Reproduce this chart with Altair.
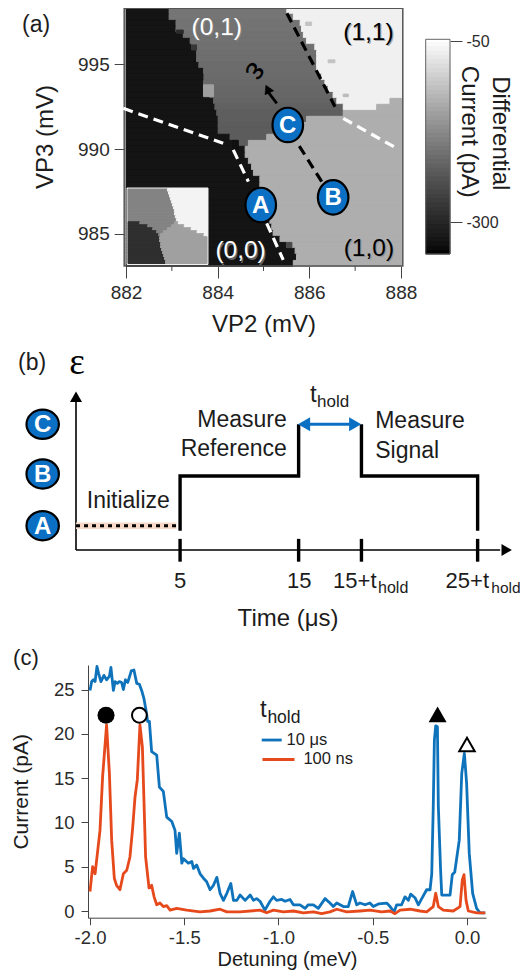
import altair as alt
import pandas as pd

# ---------- panel (a) heat map, read row by row (top to bottom) ----------
vp3_edges = [998.31,997.96,997.60,997.25,996.89,996.54,996.19,995.83,995.48,995.12,994.77,994.42,
             994.06,993.71,993.35,993.00,992.65,992.29,991.94,991.58,991.23,990.88,990.52,990.17,
             989.81,989.46,989.11,988.75,988.40,988.04,987.69,987.34,986.98,986.63,986.27,985.92,
             985.57,985.21,984.86,984.50,984.15,983.80,983.44,983.09]
dark_end = [882.94,882.94,883.09,883.09,883.25,883.40,883.43,883.54,883.54,883.59,883.69,883.70,
            883.69,883.69,883.83,883.91,883.94,883.98,884.01,884.01,884.01,884.27,884.45,884.60,
            884.60,884.67,884.74,884.78,884.92,884.92,884.92,884.92,885.00,885.07,885.14,885.14,
            885.18,885.21,885.36,885.51,885.69,885.72,885.65]
mid_end = [885.51,885.65,885.80,885.83,885.87,885.94,886.12,886.16,886.16,886.16,886.16,886.27,
           886.34,886.41,886.52,886.60,886.74,886.74,885.94,885.76,885.29,885.07,884.67] + dark_end[23:]
white_end = [888.02]*15 + [887.76,887.47] + mid_end[17:]
level_dark, level_white, level_light = -325, -62, -133
mid_levels = [-198,-198,-200,-200,-202,-202,-204,-206,-206,-208,-208,-210,-212,-214,-216,-218,-222,-226,-226,
              -228,-228,-228,-228] + [-228]*20
# stray cells: x0, x1, y0, y1, level
specks = [(883.69,883.91,993.10,993.80,-150),(883.10,883.25,996.84,997.03,-290),
          (883.43,883.54,995.86,996.15,-275),(886.41,886.56,995.10,995.27,-110),
          (886.74,886.85,993.10,993.25,-120),(885.92,886.05,997.30,997.50,-110),
          (884.33,884.45,990.00,990.52,-330),(885.50,885.62,984.20,984.50,-250)]

# inset, rows top to bottom
inset_dark = [0]*11 + [12,20,25,29,31,32,32,33,33,34,35,36,37,38]
inset_gray = [40,41,42,43,44,45,46,47,47,48,49,47,44,40,36,33] + inset_dark[16:]
inset_light = [40,41,42,43,44,45,46,47,47,48,49,51,57,64,70,77] + [80]*9
inset_levels = [-286,-181,-148,-59]

# dashed guides (VP2, VP3)
white_dashes = [[(881.94,992.41),(884.12,990.35)],[(884.34,989.96),(884.67,988.09)],
                [(885.07,985.63),(885.43,983.47)],[(886.74,991.82),(887.91,990.05)]]
black_dashes = [[(885.51,998.02),(886.56,992.51)],[(886.27,988.09),(885.72,990.45)]]
pts_a = [("A",884.94,986.71),("B",886.52,987.16),("C",885.53,991.43)]
charges = [("(0,1)",883.98,996.74,"white"),("(1,1)",887.29,996.45,"black"),
           ("(0,0)",884.50,983.56,"white"),("(1,0)",887.30,983.70,"black")]
cb_levels = list(range(-344,-47,6))

# ---------- panel (b) ----------
pulse_first = [(5,0.9),(5,1.98),(15,1.98),(15,3)]
pulse_second = [(20.3,3),(20.3,1.98),(30.1,1.98),(30.1,0.9)]
tick_times = [5,15,20.3,30.1]
pts_b = [("A",-6.59,1.0),("B",-6.59,2.02),("C",-6.59,3.0)]

# ---------- panel (c) ----------
blue_x = [-2.000,-1.991,-1.982,-1.973,-1.963,-1.954,-1.942,-1.926,-1.912,-1.897,-1.889,-1.876,-1.867,-1.855,
 -1.844,-1.832,-1.823,-1.812,-1.800,-1.791,-1.781,-1.767,-1.752,-1.738,-1.726,-1.714,-1.703,-1.694,-1.685,
 -1.673,-1.646,-1.632,-1.611,-1.593,-1.566,-1.549,-1.540,-1.526,-1.513,-1.504,-1.478,-1.460,-1.451,-1.434,
 -1.416,-1.398,-1.381,-1.363,-1.345,-1.327,-1.310,-1.292,-1.274,-1.253,-1.239,-1.221,-1.204,-1.177,-1.150,
 -1.133,-1.116,-1.098,-1.072,-1.045,-1.027,-1.010,-0.983,-0.965,-0.939,-0.921,-0.886,-0.859,-0.842,-0.815,
 -0.789,-0.753,-0.727,-0.709,-0.691,-0.656,-0.630,-0.607,-0.585,-0.568,-0.541,-0.515,-0.497,-0.470,-0.426,
 -0.408,-0.387,-0.373,-0.347,-0.329,-0.311,-0.299,-0.276,-0.258,-0.240,-0.214,-0.196,-0.187,-0.179,-0.173,
 -0.166,-0.157,-0.152,-0.140,-0.134,-0.090,-0.078,-0.065,-0.041,-0.028,-0.014,-0.002,0.012,0.030,0.051,0.069,0.097]
blue_y = [24.9,25.9,26.1,25.9,27.6,26.8,25.9,26.6,26.1,26.5,27.5,24.9,25.9,25.7,25.9,25.8,25.0,26.1,25.8,26.4,
 27.1,27.2,25.7,25.6,24.9,24.0,22.7,21.4,21.4,18.0,17.6,14.0,13.5,10.6,10.1,9.1,6.5,8.8,5.4,5.9,5.4,5.6,4.8,5.2,
 4.2,3.7,3.3,2.4,2.9,3.8,2.0,1.2,2.0,3.1,1.2,1.2,1.8,1.2,1.8,1.2,1.4,1.1,0.1,1.1,1.6,1.2,1.3,1.1,1.3,0.7,0.7,0.3,
 0.7,0.7,0.3,1.4,0.9,0.5,0.9,0.5,0.5,2.2,0.7,0.9,0.7,0.9,0.5,0.8,0.9,0.5,-0.1,0.7,0.7,1.6,1.2,1.9,1.5,0.7,1.4,2.4,
 2.4,4.2,11.8,19.3,20.9,20.8,11.8,4.6,1.8,1.8,4.1,4.4,8.0,15.5,17.8,14.4,6.5,2.0,0.3,-0.2,-0.2]
red_x = [-2.000,-1.986,-1.973,-1.947,-1.933,-1.912,-1.897,-1.885,-1.871,-1.859,-1.841,-1.823,-1.805,-1.788,-1.774,
 -1.761,-1.749,-1.735,-1.722,-1.705,-1.687,-1.673,-1.660,-1.646,-1.629,-1.611,-1.593,-1.575,-1.540,-1.487,-1.416,
 -1.363,-1.310,-1.274,-1.204,-1.098,-1.063,-1.027,-0.974,-0.921,-0.868,-0.815,-0.771,-0.727,-0.691,-0.638,-0.568,
 -0.515,-0.453,-0.408,-0.382,-0.355,-0.302,-0.249,-0.214,-0.179,-0.166,-0.152,-0.126,-0.073,-0.037,-0.025,-0.016,
 -0.005,0.007,0.051,0.097]
red_y = [2.2,5.0,4.2,9.1,15.2,21.0,15.5,8.0,3.7,2.9,2.4,4.2,4.6,6.1,9.3,12.9,14.8,21.0,18.5,6.1,2.6,2.9,1.6,0.7,0.9,
 0.5,0.6,0.1,0.3,0.1,-0.1,0.0,0.2,-0.1,-0.1,0.1,-0.2,0.1,-0.1,0.0,-0.2,-0.1,-0.3,-0.1,0.2,-0.1,0.0,0.1,-0.1,0.0,
 -0.3,0.1,0.2,0.0,-0.1,0.5,2.0,0.5,0.1,0.0,0.5,3.5,4.1,1.2,0.0,-0.2,-0.2]
BLUE, RED, BADGE = "#0f73bc", "#e6491c", "#0b70c4"

# ---------- layout helpers ----------
OX, OY = 8, 8
W, H = 512, 963
SANS, SERIF, INK = "Liberation Sans", "Liberation Serif", "#1c1c1c"
rx = lambda a, b: [a - OX, b - OX]
ry = lambda a, b: [a - OY, b - OY]
HYPHEN = "replace(datum.label, '\u2212', '-')"

ax_s = alt.Scale(domain=[881.96, 888.04], range=rx(124.2, 402.8), nice=False, zero=False)
ay_s = alt.Scale(domain=[983.11, 998.39], range=ry(266, 7), nice=False, zero=False)
gray = alt.Scale(domain=[-344, -47], range=["#000000", "#ffffff"])
cbx_s = alt.Scale(domain=[0, 1], range=rx(425.7, 450), nice=False, zero=False)
cby_s = alt.Scale(domain=[-344, -47], range=ry(254, 39.3), nice=False, zero=False)
ix_s = alt.Scale(domain=[0, 80], range=rx(128, 207), nice=False, zero=False)
iy_s = alt.Scale(domain=[0, 75], range=ry(263.5, 189), nice=False, zero=False)
bx_s = alt.Scale(domain=[-3.78, 33], range=rx(76, 512), nice=False, zero=False)
by_s = alt.Scale(domain=[0, 3.5], range=ry(576.4, 398.95), nice=False, zero=False)
cx_s = alt.Scale(domain=[-2.0106, 0.1008], range=rx(88, 486), nice=False, zero=False)
cy_s = alt.Scale(domain=[-0.756, 27.77], range=ry(917.7, 665), nice=False, zero=False)

def X(s, f="x:Q"): return alt.X(f, scale=s, axis=None)
def Y(s, f="y:Q"): return alt.Y(f, scale=s, axis=None)

def text(t, x, y, sx, sy, size, color=INK, font=SANS, align="left", baseline="alphabetic", **kw):
    d = pd.DataFrame({"x": [x], "y": [y], "t": [t]})
    return alt.Chart(d).mark_text(font=font, fontSize=size, color=color, align=align,
                                  baseline=baseline, **kw).encode(x=X(sx), y=Y(sy), text="t:N")

def line(pts, sx, sy, color, width, dash=None):
    d = pd.DataFrame(pts, columns=["x", "y"]).assign(o=range(len(pts)))
    kw = {"strokeDash": dash} if dash else {}
    return alt.Chart(d).mark_line(color=color, strokeWidth=width, strokeCap="butt", strokeJoin="miter",
                                  clip=False, **kw).encode(x=X(sx), y=Y(sy), order="o:Q")

def badge(letter, x, y, sx, sy, shape, size, fs, dy):
    d = pd.DataFrame({"x": [x], "y": [y], "t": [letter]})
    c = alt.Chart(d).encode(x=X(sx), y=Y(sy))
    return [c.mark_point(shape=shape, size=size, filled=True, fill=BADGE, stroke="#000000",
                         strokeWidth=2.2, opacity=1),
            c.mark_text(font=SANS, fontSize=fs, fontWeight="bold", color="white", align="center",
                        baseline="middle", dy=dy).encode(text="t:N")]

def symbol(x, y, sx, sy, shape, size, fill, stroke, sw=2, angle=0):
    d = pd.DataFrame({"x": [x], "y": [y]})
    return alt.Chart(d).mark_point(shape=shape, size=size, filled=True, fill=fill, stroke=stroke,
                                   strokeWidth=sw, opacity=1, angle=angle).encode(x=X(sx), y=Y(sy))

def rects(df, sx, sy):
    return alt.Chart(df).mark_rect(strokeWidth=1).encode(
        x=X(sx, "x0:Q"), x2="x1:Q", y=Y(sy, "y0:Q"), y2="y1:Q",
        color=alt.Color("v:Q", scale=gray, legend=None),
        stroke=alt.Stroke("v:Q", scale=gray, legend=None))

layers = []

# ---- (a) heat map
cells = []
for i in range(len(dark_end)):
    top, bot = vp3_edges[i], vp3_edges[i + 1]
    for a, b, v in [(882.0, dark_end[i], level_dark), (dark_end[i], mid_end[i], mid_levels[i]),
                    (mid_end[i], white_end[i], level_white), (white_end[i], 888.02, level_light)]:
        if b > a:
            cells.append((a, b, bot, top, v))
cells += specks
layers.append(rects(pd.DataFrame(cells, columns=["x0", "x1", "y0", "y1", "v"]), ax_s, ay_s))

# inset
inset = [(-1, 81, -1, 76, -60)]
for i in range(len(inset_dark)):
    t, b = 75 - 3 * i, 72 - 3 * i
    edges = [0, inset_dark[i], inset_gray[i], inset_light[i], 80]
    for k in range(4):
        if edges[k + 1] > edges[k]:
            inset.append((edges[k], edges[k + 1], b, t, inset_levels[k]))
layers.append(rects(pd.DataFrame(inset, columns=["x0", "x1", "y0", "y1", "v"]), ix_s, iy_s))

# frame and axes of (a)
axis_common = dict(labelFont=SANS, labelColor="#2b2b2b", titleFont=SANS, titleColor=INK, titleFontWeight="normal",
                   domainColor="#444444", tickColor="#444444", grid=False)
frame = pd.DataFrame({"x0": [881.96], "x1": [888.04], "y0": [983.11], "y1": [998.31]})
layers.append(alt.Chart(frame).mark_rect(fillOpacity=0, stroke="#555555", strokeWidth=1.5).encode(
    x=alt.X("x0:Q", scale=ax_s, axis=alt.Axis(orient="bottom", offset=-(H - (266 - OY)), values=[882, 884, 886, 888],
            format="d", title="VP2 (mV)", labelFontSize=19, titleFontSize=24, tickSize=12, labelPadding=5,
            titlePadding=10, domain=False, **axis_common)),
    x2="x1:Q",
    y=alt.Y("y0:Q", scale=ay_s, axis=alt.Axis(orient="left", offset=-(124.2 - OX), values=[985, 990, 995],
            format="d", title="VP3 (mV)", labelFontSize=19, titleFontSize=24, tickSize=10, labelPadding=5,
            titlePadding=20, domain=False, **axis_common)),
    y2="y1:Q"))
minor = pd.DataFrame({"x": [883, 885, 887], "y": [983.11] * 3, "y2": [982.82] * 3})
layers.append(alt.Chart(minor).mark_rule(color="#444444").encode(x=X(ax_s), y=Y(ay_s), y2="y2:Q"))

for seg in white_dashes:
    layers.append(line(seg, ax_s, ay_s, "white", 3.2, [10, 6]))
for seg in black_dashes:
    layers.append(line(seg, ax_s, ay_s, "black", 3.2, [10, 6]))
layers.append(line([(885.29, 992.71), (885.08, 993.45)], ax_s, ay_s, "black", 2.8))
layers.append(symbol(885.09, 993.55, ax_s, ay_s, "triangle-up", 90, "black", "black", 0.5, 335))
layers.append(text("ε", 884.84, 994.56, ax_s, ay_s, 32, "black", SANS, "center", "middle", angle=125))

ELL_A = "M-0.886,0A0.886,1,0,1,1,0.886,0A0.886,1,0,1,1,-0.886,0Z"
ELL_B = "M-1,0A1,0.9,0,1,1,1,0A1,0.9,0,1,1,-1,0Z"
for l, x, y in pts_a:
    layers += badge(l, x, y, ax_s, ay_s, ELL_A, 1190, 24, 1)
for t, x, y, c in charges:
    shadow = text(t, x, y, ax_s, ay_s, 24.5, "#8a8a8a", align="center", dx=1.2, dy=1.2, opacity=0.7)
    layers += [shadow, text(t, x, y, ax_s, ay_s, 24.5, c, align="center")]
layers.append(text("(a)", 879.73, 996.92, ax_s, ay_s, 23))

# colour bar
cb = pd.DataFrame({"x0": 0, "x1": 1, "y0": cb_levels, "y1": [v + 6 for v in cb_levels], "v": [v + 3 for v in cb_levels]})
layers.append(rects(cb, cbx_s, cby_s))
cb_frame = pd.DataFrame({"x0": [0], "x1": [1], "y0": [-344], "y1": [-47]})
layers.append(alt.Chart(cb_frame).mark_rect(fillOpacity=0, stroke="#666666", strokeWidth=1).encode(
    x=X(cbx_s, "x0:Q"), x2="x1:Q",
    y=alt.Y("y0:Q", scale=cby_s, axis=alt.Axis(orient="right", offset=-(W - (450 - OX)), values=[-50, -300], format="d",
            labelExpr=HYPHEN, title=None, labelFontSize=16, tickSize=12, labelPadding=4, domain=False, **axis_common)),
    y2="y1:Q"))
layers.append(text("Differential", 2.77, -177, cbx_s, cby_s, 24, align="center", angle=90))
layers.append(text("Current (pA)", 1.49, -175, cbx_s, cby_s, 24, align="center", angle=90))

# ---- (b) pulse sequence
layers.append(line([(-3.78, 0.52), (32, 0.52)], bx_s, by_s, "black", 1.6))
layers.append(line([(-3.78, 0.52), (-3.78, 3.45)], bx_s, by_s, "black", 1.6))
layers.append(symbol(-3.78, 3.544, bx_s, by_s, "triangle-up", 144, "black", "black", 0))
layers.append(symbol(32.55, 0.52, bx_s, by_s, "triangle-right", 144, "black", "black", 0))
layers.append(line([(-3.78, 1.0), (4.7, 1.0)], bx_s, by_s, "#f6d9c8", 6.5))
layers.append(line([(-3.78, 1.0), (4.7, 1.0)], bx_s, by_s, "black", 3, [4, 4]))
layers.append(line(pulse_first, bx_s, by_s, "black", 3.4))
layers.append(line(pulse_second, bx_s, by_s, "black", 3.4))
for t0 in tick_times:
    layers.append(line([(t0, 0.74), (t0, 0.29)], bx_s, by_s, "black", 3.4))
layers.append(line([(15.3, 3.0), (20.0, 3.0)], bx_s, by_s, BADGE, 3))
layers.append(symbol(15.46, 3.0, bx_s, by_s, "triangle-left", 196, BADGE, BADGE, 0))
layers.append(symbol(19.77, 3.0, bx_s, by_s, "triangle-right", 196, BADGE, BADGE, 0))
for l, x, y in pts_b:
    layers += badge(l, x, y, bx_s, by_s, ELL_B, 1050, 24, 1)
layers += [
    text("(b)", -8.67, 4.07, bx_s, by_s, 23),
    text("ε", -3.69, 3.99, bx_s, by_s, 37, "black", SERIF, "center"),
    text("t", 15.97, 3.44, bx_s, by_s, 24),
    text("hold", 16.56, 3.34, bx_s, by_s, 17),
    text("Measure", 14.0, 2.95, bx_s, by_s, 23, align="right"),
    text("Reference", 14.0, 2.37, bx_s, by_s, 23, align="right"),
    text("Measure", 21.46, 2.93, bx_s, by_s, 23),
    text("Signal", 21.46, 2.34, bx_s, by_s, 23),
    text("Initialize", -2.87, 1.355, bx_s, by_s, 23),
    text("5", 5, -0.23, bx_s, by_s, 22, align="center"),
    text("15", 15.05, -0.23, bx_s, by_s, 22, align="center"),
    text("15+t", 17.91, -0.23, bx_s, by_s, 22),
    text("hold", 21.7, -0.33, bx_s, by_s, 16),
    text("25+t", 27.40, -0.23, bx_s, by_s, 22),
    text("hold", 31.25, -0.33, bx_s, by_s, 15.5),
    text("Time (μs)", 14.11, -0.98, bx_s, by_s, 24, align="center"),
]

# ---- (c) traces
blue = pd.DataFrame({"x": blue_x, "y": blue_y, "o": range(len(blue_x))})
red = pd.DataFrame({"x": red_x, "y": red_y, "o": range(len(red_x))})
layers.append(alt.Chart(blue).mark_line(color=BLUE, strokeWidth=2.8, strokeJoin="round", clip=False).encode(
    x=alt.X("x:Q", scale=cx_s, axis=alt.Axis(orient="bottom", offset=-(H - (917.7 - OY)), values=[-2, -1.5, -1, -0.5, 0],
            format=".1f", labelExpr=HYPHEN, title="Detuning (meV)", labelFontSize=18.5, titleFontSize=20, tickSize=7,
            labelPadding=4, titlePadding=2, **axis_common)),
    y=alt.Y("y:Q", scale=cy_s, axis=alt.Axis(orient="left", offset=-(88 - OX), values=[0, 5, 10, 15, 20, 25],
            format="d", title="Current (pA)", labelFontSize=18.5, titleFontSize=21, tickSize=7, labelPadding=7,
            titlePadding=22, **axis_common)),
    order="o:Q"))
layers.append(alt.Chart(red).mark_line(color=RED, strokeWidth=2.8, strokeJoin="round", clip=False).encode(
    x=X(cx_s), y=Y(cy_s), order="o:Q"))
layers += [
    symbol(-1.915, 22.1, cx_s, cy_s, "circle", 290, "black", "black", 0),
    symbol(-1.738, 22.1, cx_s, cy_s, "circle", 220, "white", "black", 2),
    symbol(-0.156, 22.2, cx_s, cy_s, "triangle-up", 324, "black", "black", 0),
    symbol(0.0, 18.8, cx_s, cy_s, "triangle-up", 240, "white", "black", 2),
    line([(-1.089, 19.3), (-0.983, 19.3)], cx_s, cy_s, BLUE, 2.8),
    line([(-1.085, 17.1), (-0.915, 17.1)], cx_s, cy_s, RED, 2.8),
    text("t", -1.098, 21.85, cx_s, cy_s, 24),
    text("hold", -1.059, 21.2, cx_s, cy_s, 17.5),
    text("10 μs", -0.957, 18.7, cx_s, cy_s, 16.5),
    text("100 ns", -0.868, 16.6, cx_s, cy_s, 16.5),
    text("(c)", -2.408, 27.8, cx_s, cy_s, 22),
]

chart = (alt.layer(*layers)
         .resolve_scale(x="independent", y="independent", color="independent", stroke="independent")
         .properties(width=W, height=H, padding=0,
                     autosize=alt.AutoSizeParams(type="none"), background="white")
         .configure_view(stroke=None))
chart.save("out.html", embed_options={"renderer": "svg", "actions": False})
